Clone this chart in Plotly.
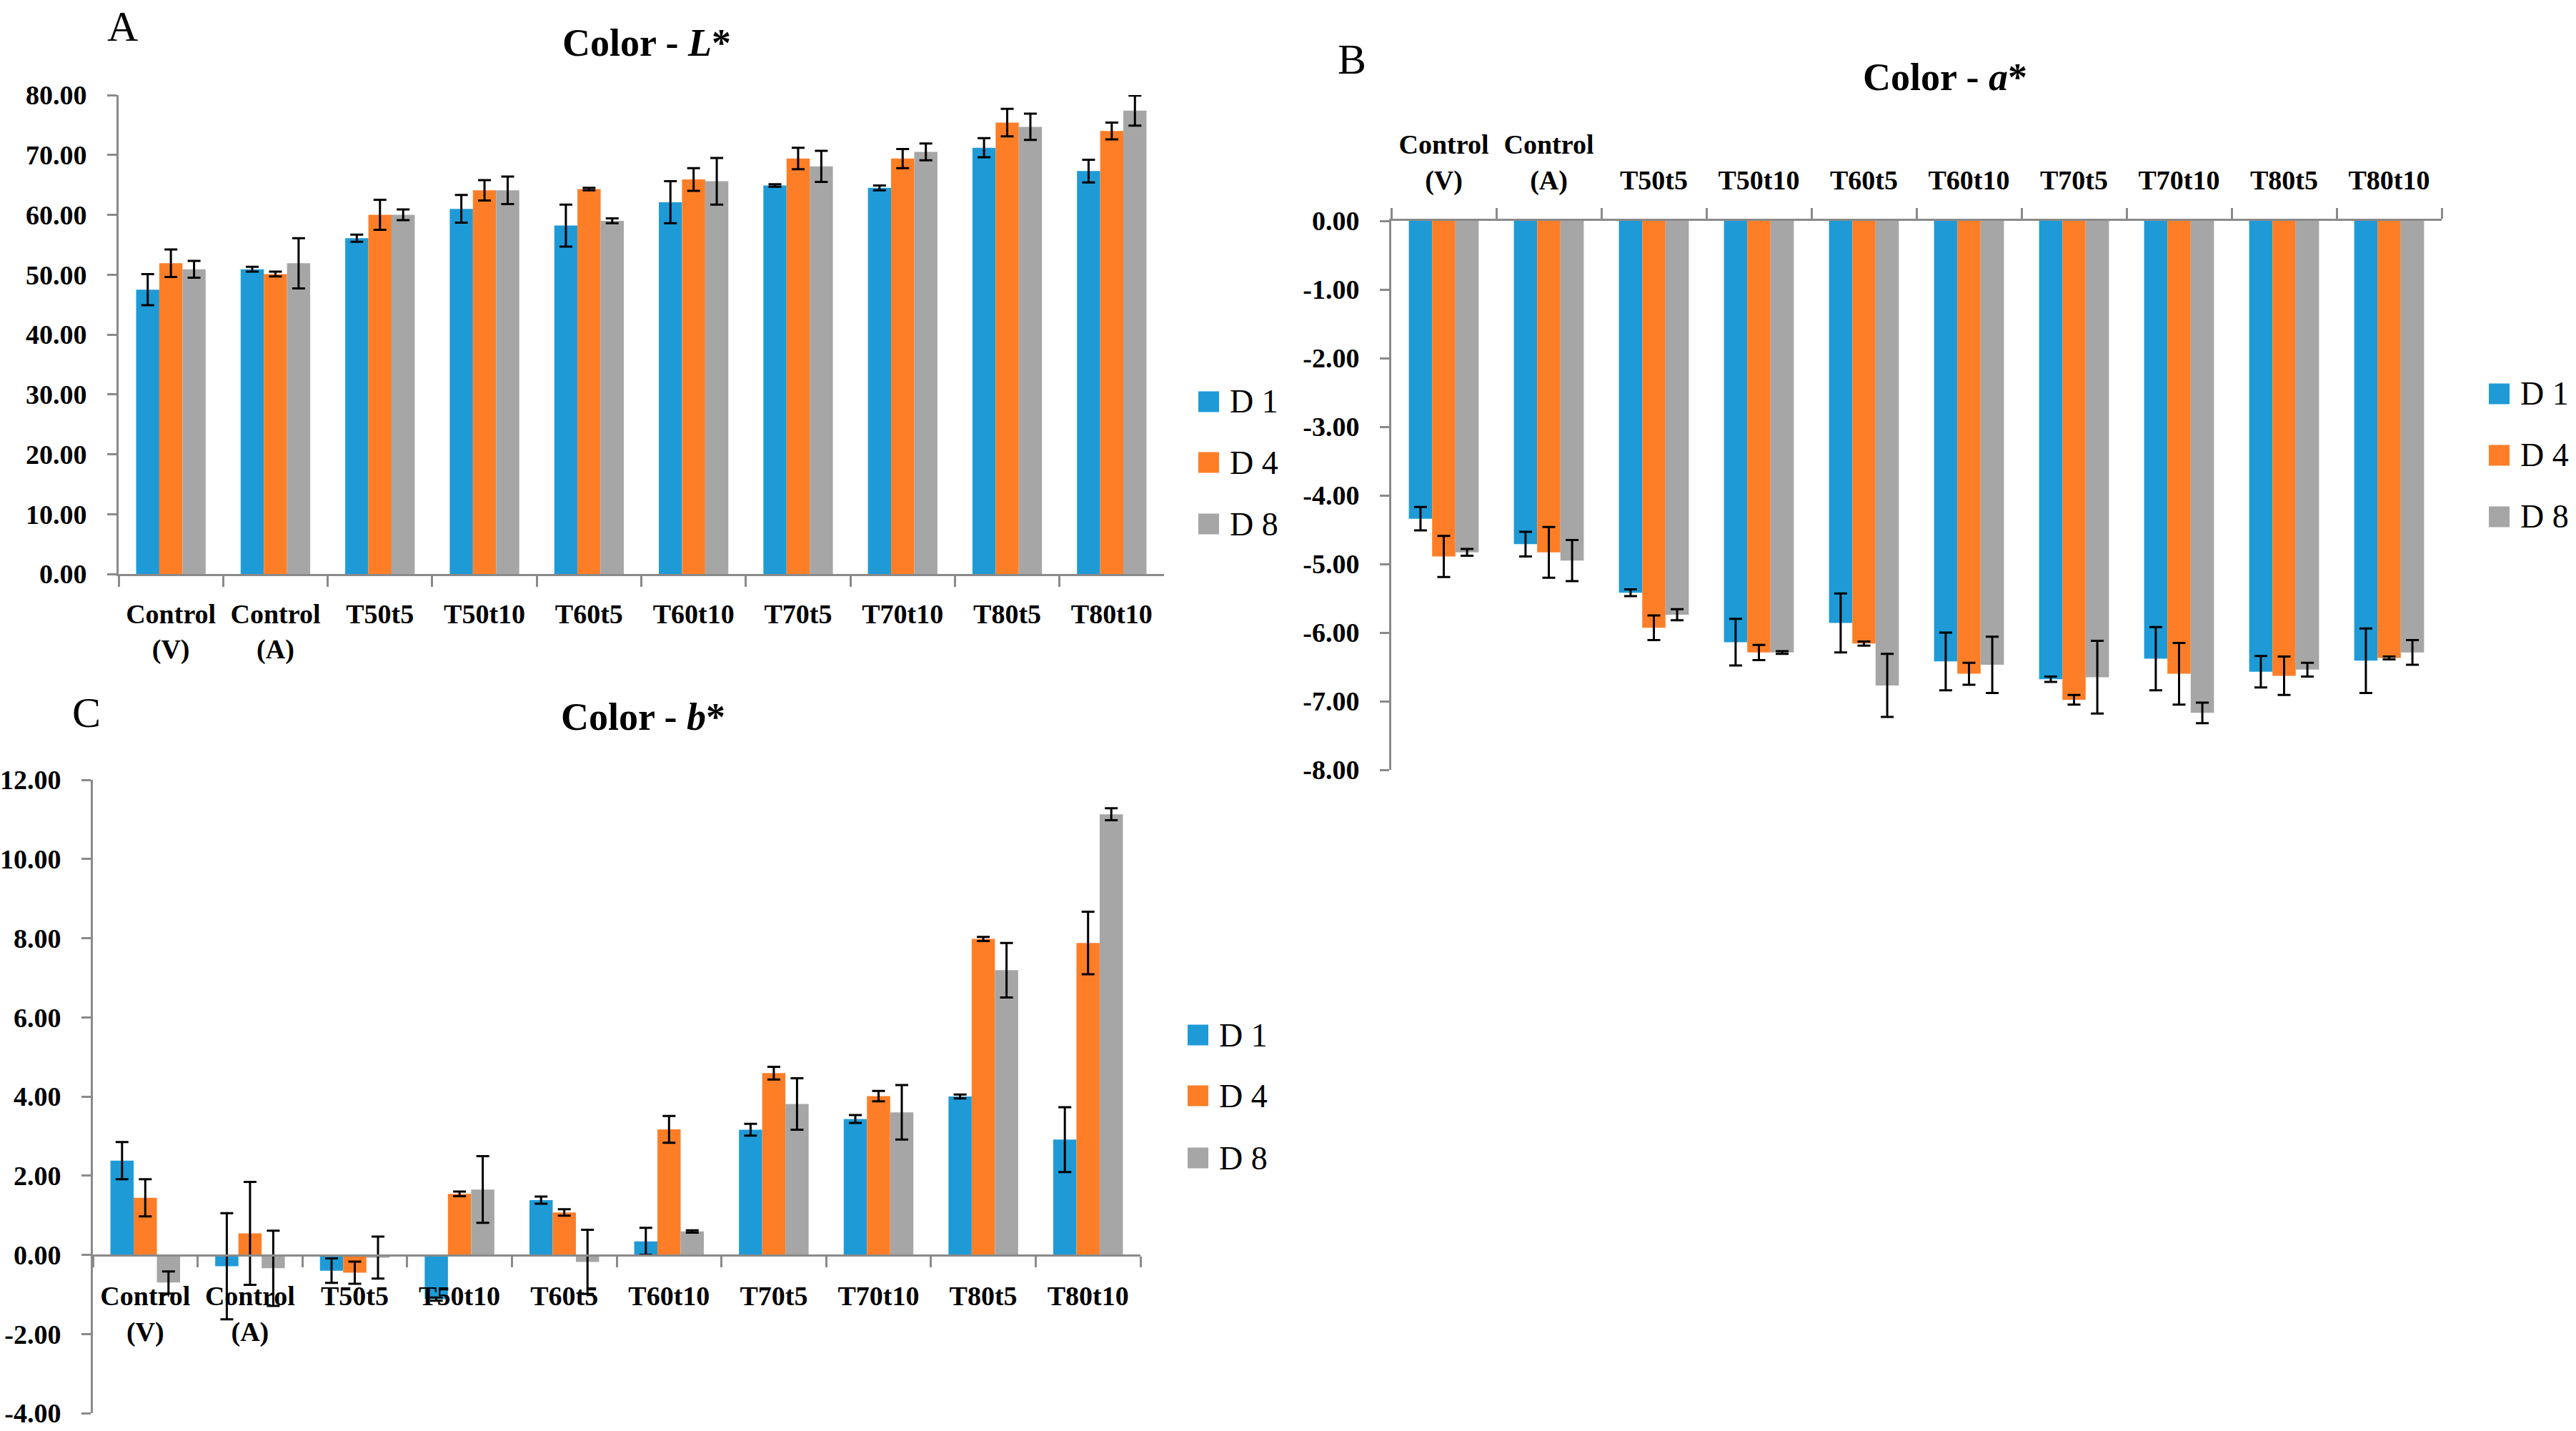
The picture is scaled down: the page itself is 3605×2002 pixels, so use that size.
import plotly.graph_objects as go

# ---------------- data ----------------
categories = ["Control<br>(V)", "Control<br>(A)", "T50t5", "T50t10", "T60t5",
              "T60t10", "T70t5", "T70t10", "T80t5", "T80t10"]
series_names = ["D 1", "D 4", "D 8"]
series_colors = ["#1E9BD7", "#FE7E27", "#A6A6A6"]

L_D1 = [47.5, 50.9, 56.1, 61.0, 58.2, 62.1, 64.9, 64.5, 71.2, 67.3]
L_D1_err = [2.6, 0.4, 0.6, 2.3, 3.5, 3.5, 0.2, 0.4, 1.6, 1.9]
L_D4 = [51.9, 50.1, 60.0, 64.1, 64.3, 65.9, 69.4, 69.4, 75.4, 74.0]
L_D4_err = [2.3, 0.4, 2.5, 1.7, 0.2, 1.9, 1.8, 1.6, 2.3, 1.4]
L_D8 = [50.9, 51.9, 60.0, 64.1, 59.0, 65.6, 68.1, 70.5, 74.7, 77.4]
L_D8_err = [1.4, 4.2, 0.9, 2.3, 0.4, 3.9, 2.6, 1.4, 2.2, 2.5]

a_D1 = [-4.34, -4.71, -5.42, -6.14, -5.86, -6.42, -6.68, -6.38, -6.57, -6.41]
a_D1_err = [0.17, 0.18, 0.05, 0.34, 0.43, 0.42, 0.04, 0.46, 0.23, 0.47]
a_D4 = [-4.89, -4.83, -5.93, -6.29, -6.16, -6.60, -6.98, -6.60, -6.63, -6.37]
a_D4_err = [0.30, 0.37, 0.18, 0.11, 0.03, 0.16, 0.07, 0.45, 0.28, 0.02]
a_D8 = [-4.83, -4.95, -5.74, -6.29, -6.77, -6.47, -6.65, -7.17, -6.54, -6.29]
a_D8_err = [0.05, 0.30, 0.08, 0.02, 0.46, 0.41, 0.53, 0.15, 0.10, 0.18]

b_D1 = [2.38, -0.29, -0.40, -1.12, 1.38, 0.34, 3.16, 3.43, 4.00, 2.91]
b_D1_err = [0.47, 1.34, 0.31, 0.04, 0.09, 0.34, 0.15, 0.10, 0.05, 0.82]
b_D4 = [1.44, 0.54, -0.45, 1.54, 1.07, 3.17, 4.59, 4.01, 7.98, 7.88]
b_D4_err = [0.47, 1.30, 0.28, 0.06, 0.08, 0.34, 0.16, 0.13, 0.05, 0.79]
b_D8 = [-0.70, -0.34, -0.07, 1.65, -0.18, 0.59, 3.81, 3.60, 7.19, 11.13]
b_D8_err = [0.28, 0.95, 0.53, 0.84, 0.81, 0.03, 0.65, 0.69, 0.69, 0.15]

L_ticks = [0, 10, 20, 30, 40, 50, 60, 70, 80]
a_ticks = [0, -1, -2, -3, -4, -5, -6, -7, -8]
b_ticks = [-4, -2, 0, 2, 4, 6, 8, 10, 12]

# ---------------- layout constants ----------------
W, H = 3605, 2002
FONT = "Liberation Serif"
AXC = "#8A8A8A"


def px(x):
    return x / W


def py(y):
    return 1 - y / H


def fmt(vals):
    # plain hyphen-minus, two decimals (as in the reference)
    return [f"{v:.2f}" for v in vals]


panels = [
    dict(xa="x", ya="y", xdom=[px(166), px(1629)], ydom=[py(803), py(133)],
         rng=[0, 80], ticks=L_ticks, xstand=20,
         data=[(L_D1, L_D1_err), (L_D4, L_D4_err), (L_D8, L_D8_err)],
         title="<b>Color - <i>L</i>*</b>", tpos=(905, 60),
         letter="A", lpos=(171, 37),
         leg_x=1677, leg_y=[562, 647, 733]),
    dict(xa="x2", ya="y2", xdom=[px(1947), px(3417)], ydom=[py(1077), py(309)],
         rng=[-8, 0], ticks=a_ticks, xstand=26,
         data=[(a_D1, a_D1_err), (a_D4, a_D4_err), (a_D8, a_D8_err)],
         title="<b>Color - <i>a</i>*</b>", tpos=(2722, 108),
         letter="B", lpos=(1892, 83),
         leg_x=3483, leg_y=[551, 637, 723]),
    dict(xa="x3", ya="y3", xdom=[px(130), px(1596)], ydom=[py(1977), py(1091)],
         rng=[-4, 12], ticks=b_ticks, xstand=23,
         data=[(b_D1, b_D1_err), (b_D4, b_D4_err), (b_D8, b_D8_err)],
         title="<b>Color - <i>b</i>*</b>", tpos=(900, 1003),
         letter="C", lpos=(121, 997),
         leg_x=1662, leg_y=[1448, 1533, 1620]),
]

fig = go.Figure()

annotations = []
shapes = []

for i, p in enumerate(panels):
    for (vals, errs), name, col in zip(p["data"], series_names, series_colors):
        fig.add_trace(go.Bar(
            x=categories, y=vals, name=name, marker_color=col,
            marker_line_width=0,
            error_y=dict(type="data", array=errs, visible=True,
                         color="black", thickness=3, width=9),
            xaxis=p["xa"], yaxis=p["ya"], showlegend=False,
        ))
    # titles and letters
    annotations.append(dict(text=p["title"], x=px(p["tpos"][0]), y=py(p["tpos"][1]),
                            xref="paper", yref="paper", showarrow=False,
                            xanchor="center", yanchor="middle",
                            font=dict(family=FONT, size=54, color="black")))
    annotations.append(dict(text=p["letter"], x=px(p["lpos"][0]), y=py(p["lpos"][1]),
                            xref="paper", yref="paper", showarrow=False,
                            xanchor="center", yanchor="middle",
                            font=dict(family=FONT, size=60, color="black")))
    # legend
    for name, col, yc in zip(series_names, series_colors, p["leg_y"]):
        shapes.append(dict(type="rect", xref="paper", yref="paper",
                           x0=px(p["leg_x"]), x1=px(p["leg_x"] + 29),
                           y0=py(yc + 14.5), y1=py(yc - 14.5),
                           fillcolor=col, line=dict(width=0)))
        annotations.append(dict(text=name, x=px(p["leg_x"] + 42), y=py(yc),
                                xref="paper", yref="paper", showarrow=False,
                                xanchor="left", yanchor="middle",
                                font=dict(family=FONT, size=46, color="black")))

tickfont = dict(family=FONT, size=38, color="black", weight="bold")

common_x = dict(type="category", showline=True, linecolor=AXC, linewidth=3,
                ticks="outside", tickcolor=AXC, tickwidth=3, ticklen=15,
                tickson="boundaries", tickfont=tickfont, showgrid=False,
                zeroline=False, automargin=False)
common_y = dict(showline=True, linecolor=AXC, linewidth=3, ticks="outside",
                tickcolor=AXC, tickwidth=3, ticklen=13, tickfont=tickfont,
                showgrid=False, zeroline=False,
                tickmode="array", ticklabelstandoff=21, automargin=False)

# panel C: x axis crosses at y = 0
pc = panels[2]
zero_pos = pc["ydom"][0] + (0 - pc["rng"][0]) / (pc["rng"][1] - pc["rng"][0]) * (pc["ydom"][1] - pc["ydom"][0])

fig.update_layout(
    width=W, height=H, autosize=False,
    margin=dict(l=0, r=0, t=0, b=0, pad=0, autoexpand=False),
    paper_bgcolor="white", plot_bgcolor="white",
    barmode="group", bargap=0.335, bargroupgap=0,
    font=dict(family=FONT, color="black"),
    xaxis=dict(common_x, domain=panels[0]["xdom"], anchor="y",
               ticklabelstandoff=panels[0]["xstand"]),
    yaxis=dict(common_y, domain=panels[0]["ydom"], anchor="x",
               range=panels[0]["rng"], tickvals=panels[0]["ticks"],
               ticktext=fmt(panels[0]["ticks"])),
    xaxis2=dict(common_x, domain=panels[1]["xdom"], anchor="y2", side="top",
                ticklabelstandoff=panels[1]["xstand"]),
    yaxis2=dict(common_y, domain=panels[1]["ydom"], anchor="x2",
                range=panels[1]["rng"], tickvals=panels[1]["ticks"],
                ticktext=fmt(panels[1]["ticks"])),
    xaxis3=dict(common_x, domain=panels[2]["xdom"], anchor="free",
                position=zero_pos, ticklabelstandoff=panels[2]["xstand"]),
    yaxis3=dict(common_y, domain=panels[2]["ydom"], anchor="x3",
                range=panels[2]["rng"], tickvals=panels[2]["ticks"],
                ticktext=fmt(panels[2]["ticks"])),
    annotations=annotations,
    shapes=shapes,
)

fig.write_html(
    "out.html",
    config={"displayModeBar": False},
    post_script="document.body.style.margin='0';document.body.style.padding='0';"
                "document.documentElement.style.overflow='hidden';"
                "document.body.style.overflow='hidden';",
)
